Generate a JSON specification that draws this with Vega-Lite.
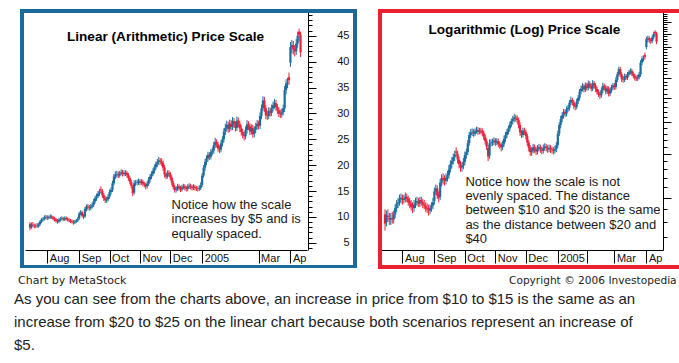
{
"$schema": "https://vega.github.io/schema/vega-lite/v6.json",
"usermeta": {"embedOptions": {"actions": false}},
"width": 679, "height": 363, "padding": 0,
"autosize": {"type": "none"},
"config": {"view": {"stroke": null}, "font": "Liberation Sans", "text": {"font": "Liberation Sans"}},
"datasets": {"px": [
{"i":0,"o":8.6,"h":9.0,"l":7.4,"c":7.9},{"i":1,"o":8.0,"h":8.9,"l":7.7,"c":8.5},{"i":2,"o":8.5,"h":9.0,"l":8.0,"c":8.4},{"i":3,"o":8.3,"h":8.7,"l":7.8,"c":8.2},{"i":4,"o":8.2,"h":8.7,"l":7.8,"c":8.3},{"i":5,"o":8.3,"h":8.8,"l":7.9,"c":8.2},{"i":6,"o":8.2,"h":8.9,"l":7.9,"c":8.6},{"i":7,"o":8.6,"h":9.4,"l":8.3,"c":9.1},{"i":8,"o":9.1,"h":9.8,"l":8.8,"c":9.5},{"i":9,"o":9.5,"h":10.0,"l":9.1,"c":9.6},
{"i":10,"o":9.6,"h":10.3,"l":9.3,"c":9.9},{"i":11,"o":9.9,"h":10.4,"l":9.5,"c":10.0},{"i":12,"o":10.0,"h":10.3,"l":9.4,"c":9.8},{"i":13,"o":9.8,"h":10.3,"l":9.5,"c":9.9},{"i":14,"o":9.9,"h":10.5,"l":9.6,"c":10.1},{"i":15,"o":10.1,"h":10.4,"l":9.6,"c":9.9},{"i":16,"o":9.9,"h":10.2,"l":9.3,"c":9.6},{"i":17,"o":9.7,"h":10.0,"l":9.1,"c":9.5},{"i":18,"o":9.5,"h":9.8,"l":8.9,"c":9.2},{"i":19,"o":9.2,"h":9.6,"l":8.7,"c":9.1},
{"i":20,"o":9.1,"h":9.8,"l":8.8,"c":9.4},{"i":21,"o":9.4,"h":10.0,"l":9.1,"c":9.6},{"i":22,"o":9.6,"h":10.1,"l":9.3,"c":9.7},{"i":23,"o":9.7,"h":10.0,"l":9.2,"c":9.5},{"i":24,"o":9.5,"h":10.1,"l":9.2,"c":9.8},{"i":25,"o":9.8,"h":10.1,"l":9.3,"c":9.6},{"i":26,"o":9.6,"h":9.9,"l":9.1,"c":9.4},{"i":27,"o":9.4,"h":9.8,"l":9.0,"c":9.3},{"i":28,"o":9.3,"h":9.6,"l":8.8,"c":9.1},{"i":29,"o":9.1,"h":9.5,"l":8.7,"c":9.0},
{"i":30,"o":9.0,"h":9.4,"l":8.5,"c":8.9},{"i":31,"o":8.9,"h":9.4,"l":8.6,"c":9.1},{"i":32,"o":9.1,"h":9.6,"l":8.8,"c":9.3},{"i":33,"o":9.3,"h":10.0,"l":9.0,"c":9.6},{"i":34,"o":9.7,"h":11.0,"l":9.4,"c":10.6},{"i":35,"o":10.6,"h":11.3,"l":10.3,"c":10.9},{"i":36,"o":10.9,"h":11.2,"l":9.9,"c":10.2},{"i":37,"o":10.3,"h":10.6,"l":9.6,"c":10.0},{"i":38,"o":10.1,"h":11.9,"l":9.8,"c":11.5},{"i":39,"o":11.5,"h":12.4,"l":11.1,"c":12.0},
{"i":40,"o":12.0,"h":12.5,"l":11.3,"c":11.8},{"i":41,"o":11.8,"h":12.3,"l":11.2,"c":11.7},{"i":42,"o":11.7,"h":12.5,"l":11.3,"c":12.0},{"i":43,"o":12.0,"h":12.8,"l":11.6,"c":12.3},{"i":44,"o":12.3,"h":13.5,"l":11.9,"c":13.0},{"i":45,"o":13.0,"h":14.1,"l":12.6,"c":13.6},{"i":46,"o":13.6,"h":14.5,"l":13.1,"c":14.0},{"i":47,"o":14.0,"h":15.0,"l":13.6,"c":14.5},{"i":48,"o":14.5,"h":15.4,"l":14.0,"c":14.9},{"i":49,"o":15.3,"h":15.9,"l":14.6,"c":15.1},
{"i":50,"o":15.0,"h":15.4,"l":13.7,"c":14.2},{"i":51,"o":14.2,"h":14.6,"l":13.1,"c":13.6},{"i":52,"o":13.6,"h":14.0,"l":12.7,"c":13.2},{"i":53,"o":13.2,"h":13.9,"l":12.7,"c":13.4},{"i":54,"o":13.4,"h":14.4,"l":13.0,"c":13.9},{"i":55,"o":13.9,"h":15.3,"l":13.5,"c":14.8},{"i":56,"o":14.8,"h":15.7,"l":14.3,"c":15.2},{"i":57,"o":15.2,"h":17.0,"l":14.8,"c":16.5},{"i":58,"o":16.5,"h":18.3,"l":16.1,"c":17.8},{"i":59,"o":17.8,"h":18.8,"l":17.3,"c":18.2},
{"i":60,"o":18.2,"h":18.9,"l":17.6,"c":18.3},{"i":61,"o":18.3,"h":18.8,"l":17.5,"c":18.0},{"i":62,"o":18.0,"h":18.9,"l":17.6,"c":18.4},{"i":63,"o":18.4,"h":19.2,"l":18.0,"c":18.6},{"i":64,"o":18.6,"h":19.1,"l":17.8,"c":18.3},{"i":65,"o":18.3,"h":19.0,"l":17.9,"c":18.5},{"i":66,"o":18.5,"h":19.0,"l":17.9,"c":18.4},{"i":67,"o":18.5,"h":18.9,"l":17.6,"c":18.1},{"i":68,"o":18.1,"h":18.5,"l":17.0,"c":17.5},{"i":69,"o":17.5,"h":17.9,"l":16.3,"c":16.8},
{"i":70,"o":16.8,"h":17.2,"l":15.5,"c":16.0},{"i":71,"o":15.8,"h":16.2,"l":14.0,"c":14.6},{"i":72,"o":14.7,"h":17.1,"l":14.3,"c":16.5},{"i":73,"o":16.5,"h":17.1,"l":16.0,"c":16.6},{"i":74,"o":16.6,"h":17.2,"l":16.1,"c":16.7},{"i":75,"o":16.7,"h":17.4,"l":16.2,"c":16.9},{"i":76,"o":16.9,"h":17.3,"l":16.1,"c":16.6},{"i":77,"o":16.6,"h":17.3,"l":16.2,"c":16.8},{"i":78,"o":16.8,"h":17.2,"l":15.9,"c":16.4},{"i":79,"o":16.4,"h":16.8,"l":15.7,"c":16.2},
{"i":80,"o":16.2,"h":16.6,"l":15.3,"c":15.9},{"i":81,"o":15.9,"h":16.9,"l":15.5,"c":16.4},{"i":82,"o":16.4,"h":17.7,"l":16.0,"c":17.2},{"i":83,"o":17.2,"h":18.3,"l":16.7,"c":17.8},{"i":84,"o":17.8,"h":18.8,"l":17.3,"c":18.3},{"i":85,"o":18.3,"h":19.4,"l":17.9,"c":18.9},{"i":86,"o":18.9,"h":20.1,"l":18.4,"c":19.6},{"i":87,"o":19.6,"h":20.7,"l":19.1,"c":20.2},{"i":88,"o":20.2,"h":21.2,"l":19.6,"c":20.6},{"i":89,"o":20.6,"h":21.6,"l":20.0,"c":20.9},
{"i":90,"o":20.9,"h":21.4,"l":20.1,"c":20.7},{"i":91,"o":20.7,"h":21.3,"l":19.8,"c":20.4},{"i":92,"o":20.4,"h":20.9,"l":18.9,"c":19.5},{"i":93,"o":19.5,"h":20.0,"l":17.6,"c":18.2},{"i":94,"o":18.2,"h":18.6,"l":17.3,"c":17.8},{"i":95,"o":17.8,"h":19.0,"l":17.4,"c":18.5},{"i":96,"o":18.5,"h":19.0,"l":17.8,"c":18.3},{"i":97,"o":18.3,"h":18.7,"l":17.1,"c":17.6},{"i":98,"o":17.6,"h":18.0,"l":16.1,"c":16.6},{"i":99,"o":16.6,"h":17.0,"l":15.3,"c":15.8},
{"i":100,"o":15.8,"h":16.2,"l":14.7,"c":15.2},{"i":101,"o":15.2,"h":15.9,"l":14.7,"c":15.4},{"i":102,"o":15.4,"h":16.4,"l":15.0,"c":15.9},{"i":103,"o":15.9,"h":16.3,"l":15.1,"c":15.6},{"i":104,"o":15.6,"h":16.0,"l":14.8,"c":15.3},{"i":105,"o":15.3,"h":16.2,"l":14.9,"c":15.7},{"i":106,"o":15.7,"h":16.4,"l":15.3,"c":15.9},{"i":107,"o":15.9,"h":16.3,"l":15.1,"c":15.6},{"i":108,"o":15.6,"h":16.0,"l":14.9,"c":15.4},{"i":109,"o":15.4,"h":16.3,"l":15.0,"c":15.8},
{"i":110,"o":15.8,"h":16.5,"l":15.4,"c":16.0},{"i":111,"o":16.0,"h":16.4,"l":15.3,"c":15.8},{"i":112,"o":15.8,"h":16.2,"l":15.1,"c":15.6},{"i":113,"o":15.6,"h":16.3,"l":15.2,"c":15.8},{"i":114,"o":15.8,"h":16.2,"l":15.1,"c":15.6},{"i":115,"o":15.6,"h":16.0,"l":15.0,"c":15.5},{"i":116,"o":15.5,"h":15.9,"l":14.9,"c":15.4},{"i":117,"o":15.4,"h":16.1,"l":15.0,"c":15.6},{"i":118,"o":15.6,"h":16.7,"l":15.2,"c":16.2},{"i":119,"o":16.2,"h":18.5,"l":15.8,"c":18.0},
{"i":120,"o":18.0,"h":20.0,"l":17.6,"c":19.5},{"i":121,"o":19.5,"h":21.2,"l":18.9,"c":20.6},{"i":122,"o":20.6,"h":21.9,"l":20.0,"c":21.3},{"i":123,"o":21.3,"h":22.6,"l":20.7,"c":22.0},{"i":124,"o":22.0,"h":22.5,"l":21.0,"c":21.6},{"i":125,"o":21.6,"h":23.1,"l":21.1,"c":22.5},{"i":126,"o":22.5,"h":23.4,"l":21.9,"c":22.8},{"i":127,"o":22.8,"h":24.5,"l":22.2,"c":23.9},{"i":128,"o":23.9,"h":25.3,"l":23.3,"c":24.5},{"i":129,"o":24.5,"h":25.0,"l":23.4,"c":24.0},
{"i":130,"o":24.0,"h":24.5,"l":22.6,"c":23.2},{"i":131,"o":23.2,"h":23.8,"l":22.3,"c":23.0},{"i":132,"o":23.0,"h":24.8,"l":22.5,"c":24.2},{"i":133,"o":24.2,"h":25.6,"l":23.6,"c":25.0},{"i":134,"o":25.0,"h":27.1,"l":24.4,"c":26.5},{"i":135,"o":26.5,"h":28.0,"l":25.8,"c":27.2},{"i":136,"o":27.2,"h":28.6,"l":26.5,"c":27.8},{"i":137,"o":27.8,"h":28.4,"l":26.3,"c":27.0},{"i":138,"o":27.0,"h":28.8,"l":26.4,"c":28.0},{"i":139,"o":28.0,"h":28.7,"l":26.7,"c":27.4},
{"i":140,"o":27.4,"h":29.3,"l":26.8,"c":28.5},{"i":141,"o":28.5,"h":29.1,"l":27.2,"c":27.9},{"i":142,"o":27.9,"h":28.5,"l":26.5,"c":27.2},{"i":143,"o":27.2,"h":29.4,"l":26.6,"c":28.6},{"i":144,"o":28.6,"h":29.2,"l":27.3,"c":28.0},{"i":145,"o":28.0,"h":28.6,"l":26.4,"c":27.1},{"i":146,"o":27.1,"h":27.7,"l":25.7,"c":26.4},{"i":147,"o":26.4,"h":27.0,"l":25.2,"c":25.9},{"i":148,"o":25.9,"h":26.5,"l":24.8,"c":25.6},{"i":149,"o":25.6,"h":27.5,"l":25.0,"c":26.8},
{"i":150,"o":26.8,"h":28.7,"l":26.1,"c":27.9},{"i":151,"o":27.9,"h":28.5,"l":26.8,"c":27.5},{"i":152,"o":27.5,"h":28.1,"l":25.8,"c":26.5},{"i":153,"o":26.5,"h":27.9,"l":25.9,"c":27.2},{"i":154,"o":27.2,"h":27.8,"l":25.3,"c":26.0},{"i":155,"o":26.0,"h":27.5,"l":25.4,"c":26.8},{"i":156,"o":26.8,"h":28.2,"l":26.2,"c":27.5},{"i":157,"o":27.5,"h":28.7,"l":26.9,"c":28.0},{"i":158,"o":28.0,"h":28.6,"l":26.9,"c":27.6},{"i":159,"o":27.6,"h":30.2,"l":27.0,"c":29.5},
{"i":160,"o":29.5,"h":31.7,"l":28.9,"c":31.0},{"i":161,"o":31.0,"h":33.3,"l":30.4,"c":32.5},{"i":162,"o":32.5,"h":33.2,"l":30.3,"c":31.0},{"i":163,"o":31.0,"h":31.6,"l":28.9,"c":29.6},{"i":164,"o":29.6,"h":30.5,"l":28.7,"c":29.5},{"i":165,"o":29.5,"h":31.2,"l":28.9,"c":30.5},{"i":166,"o":30.5,"h":31.1,"l":29.4,"c":30.1},{"i":167,"o":30.1,"h":31.7,"l":29.5,"c":31.0},{"i":168,"o":31.0,"h":32.3,"l":30.4,"c":31.6},{"i":169,"o":31.6,"h":32.8,"l":30.9,"c":32.0},
{"i":170,"o":32.0,"h":32.6,"l":30.5,"c":31.2},{"i":171,"o":31.2,"h":31.8,"l":29.9,"c":30.6},{"i":172,"o":30.6,"h":31.2,"l":29.3,"c":30.0},{"i":173,"o":30.0,"h":30.7,"l":29.1,"c":29.8},{"i":174,"o":29.8,"h":30.9,"l":29.2,"c":30.2},{"i":175,"o":30.2,"h":31.7,"l":29.6,"c":31.0},{"i":176,"o":31.0,"h":35.3,"l":30.3,"c":34.5},{"i":177,"o":34.5,"h":36.6,"l":33.7,"c":35.8},{"i":178,"o":35.8,"h":36.9,"l":34.9,"c":36.0},{"i":179,"o":37.0,"h":37.9,"l":35.5,"c":36.4},
{"i":180,"o":39.8,"h":43.8,"l":39.0,"c":42.8},{"i":181,"o":42.8,"h":44.2,"l":41.6,"c":43.2},{"i":182,"o":43.2,"h":44.0,"l":41.4,"c":42.4},{"i":183,"o":42.4,"h":43.2,"l":41.0,"c":42.0},{"i":184,"o":42.0,"h":44.4,"l":41.3,"c":43.5},{"i":185,"o":43.5,"h":45.8,"l":42.7,"c":45.0},{"i":186,"o":45.8,"h":46.4,"l":44.0,"c":45.2},{"i":187,"o":45.2,"h":45.8,"l":40.9,"c":41.8}
]},
"layer": [
{
 "data": {"name": "px"},
 "layer": [
  {"mark": {"type": "rect", "filled": false, "stroke": "#1b6a9b", "strokeWidth": 3},
   "encoding": {"x": {"datum": -5.67, "type": "quantitative"}, "x2": {"datum": 224.5}, "y": {"datum": 0.41, "type": "quantitative", "axis": null}, "y2": {"datum": 49.74}}},
  {"mark": {"type": "rule", "strokeWidth": 1},
   "encoding": {
    "x": {"field": "i", "type": "quantitative",
      "scale": {"domain": [0, 188], "range": [25, 307], "nice": false, "zero": false},
      "axis": {"orient": "bottom", "offset": -113, "title": null, "grid": false,
        "values": [12, 34, 55, 76, 97, 119, 158, 180],
        "labelExpr": "['Aug','Sep','Oct','Nov','Dec','2005','Mar','Ap'][indexof([12,34,55,76,97,119,158,180], datum.value)]",
        "tickSize": 13, "labelPadding": -11, "labelAlign": "left", "labelOffset": 2, "labelBaseline": "top",
        "labelFlush": false, "labelOverlap": false, "labelBound": false,
        "domainColor": "#000", "tickColor": "#000", "labelColor": "#111", "labelFontSize": 11, "labelFont": "Liberation Sans"}},
    "y": {"field": "l", "type": "quantitative",
      "scale": {"domain": [3.6, 49.6], "range": [250, 12], "nice": false, "zero": false},
      "axis": {"orient": "right", "offset": -371, "title": null, "grid": false,
        "values": [5, 10, 15, 20, 25, 30, 35, 40, 45], "tickSize": 8,
        "labelAlign": "right", "labelPadding": 33, "labelBaseline": "middle",
        "labelFlush": false, "labelOverlap": false, "labelBound": false,
        "domainColor": "#000", "tickColor": "#000", "labelColor": "#111", "labelFontSize": 11, "labelFont": "Liberation Sans"}},
    "y2": {"field": "h"},
    "color": {"condition": {"test": "datum.c < datum.o", "value": "#e8213a"}, "value": "#1a6d9e"}}},
  {"mark": {"type": "bar", "width": 2.2},
   "encoding": {
    "x": {"field": "i", "type": "quantitative"},
    "y": {"field": "o", "type": "quantitative",
      "axis": {"orient": "right", "offset": -371, "title": null, "grid": false, "labels": false, "domain": false,
        "values": [4,6,7,8,9,11,12,13,14,16,17,18,19,21,22,23,24,26,27,28,29,31,32,33,34,36,37,38,39,41,42,43,44,46,47,48,49],
        "tickSize": 4, "tickColor": "#000"}},
    "y2": {"field": "c"},
    "color": {"condition": {"test": "datum.c < datum.o", "value": "#e8213a"}, "value": "#1a6d9e"}}},
  {"data": {"values": [{"t": "Linear (Arithmetic) Price Scale"}]},
   "mark": {"type": "text", "align": "center", "baseline": "alphabetic", "fontSize": 13.6, "fontWeight": "bold", "color": "#000"},
   "encoding": {"x": {"datum": 93.7, "type": "quantitative"}, "y": {"datum": 44.0, "type": "quantitative", "axis": null}, "text": {"field": "t"}}},
  {"data": {"values": [{"t": "Notice how the scale\nincreases by $5 and is\nequally spaced."}]},
   "mark": {"type": "text", "align": "left", "baseline": "alphabetic", "fontSize": 13, "lineBreak": "\n", "lineHeight": 14.6, "color": "#1a1a1a"},
   "encoding": {"x": {"datum": 97.8, "type": "quantitative"}, "y": {"datum": 11.62, "type": "quantitative", "axis": null}, "text": {"field": "t"}}}
 ],
 "resolve": {"axis": {"y": "independent"}}
},
{
 "data": {"name": "px"},
 "layer": [
  {"mark": {"type": "rect", "filled": false, "stroke": "#ea2130", "strokeWidth": 3},
   "encoding": {"x": {"datum": -3.6, "type": "quantitative"}, "x2": {"datum": 206}, "y": {"datum": 5.305, "type": "quantitative", "axis": null}, "y2": {"datum": 55.25}}},
  {"mark": {"type": "rule", "strokeWidth": 1},
   "encoding": {
    "x": {"field": "i", "type": "quantitative",
      "scale": {"domain": [0, 188], "range": [380, 663], "nice": false, "zero": false},
      "axis": {"orient": "bottom", "offset": -113, "title": null, "grid": false,
        "values": [12, 34, 55, 76, 97, 119, 139, 158, 180],
        "labelExpr": "['Aug','Sep','Oct','Nov','Dec','2005','','Mar','Ap'][indexof([12,34,55,76,97,119,139,158,180], datum.value)]",
        "tickSize": 13, "labelPadding": -11, "labelAlign": "left", "labelOffset": 2, "labelBaseline": "top",
        "labelFlush": false, "labelOverlap": false, "labelBound": false,
        "domainColor": "#000", "tickColor": "#000", "labelColor": "#111", "labelFontSize": 11, "labelFont": "Liberation Sans"}},
    "y": {"field": "l", "type": "quantitative",
      "scale": {"type": "log", "domain": [6.2, 54.9], "range": [250, 12], "nice": false},
      "axis": {"orient": "right", "offset": -16, "title": null, "grid": false, "labels": false,
        "values": [10, 15, 20, 25, 30, 35, 40, 45, 50], "tickSize": 8,
        "domainColor": "#000", "tickColor": "#000"}},
    "y2": {"field": "h"},
    "color": {"condition": {"test": "datum.c < datum.o", "value": "#e8213a"}, "value": "#1a6d9e"}}},
  {"mark": {"type": "bar", "width": 2.2},
   "encoding": {
    "x": {"field": "i", "type": "quantitative"},
    "y": {"field": "o", "type": "quantitative",
      "axis": {"orient": "right", "offset": -16, "title": null, "grid": false, "labels": false, "domain": false,
        "values": [7,8,9,11,12,13,14,16,17,18,19,21,22,23,24,26,27,28,29,31,32,33,34,36,37,38,39,41,42,43,44,46,47,48,49,51,52,53,54],
        "tickSize": 4, "tickColor": "#000"}},
    "y2": {"field": "c"},
    "color": {"condition": {"test": "datum.c < datum.o", "value": "#e8213a"}, "value": "#1a6d9e"}}},
  {"data": {"values": [{"t": "Logarithmic (Log) Price Scale"}]},
   "mark": {"type": "text", "align": "center", "baseline": "alphabetic", "fontSize": 13.6, "fontWeight": "bold", "color": "#000"},
   "encoding": {"x": {"datum": 96, "type": "quantitative"}, "y": {"datum": 44.9, "type": "quantitative", "axis": null}, "text": {"field": "t"}}},
  {"data": {"values": [{"t": "Notice how the scale is not\nevenly spaced. The distance\nbetween $10 and $20 is the same\nas the distance between $20 and\n$40"}]},
   "mark": {"type": "text", "align": "left", "baseline": "alphabetic", "fontSize": 13, "lineBreak": "\n", "lineHeight": 14.2, "color": "#1a1a1a"},
   "encoding": {"x": {"datum": 55.35, "type": "quantitative"}, "y": {"datum": 11.14, "type": "quantitative", "axis": null}, "text": {"field": "t"}}}
 ],
 "resolve": {"axis": {"y": "independent"}}
},
{
 "layer": [
  {"data": {"values": [{"line": 0, "t": "Chart by MetaStock"}]},
   "mark": {"type": "text", "align": "left", "baseline": "alphabetic", "font": "DejaVu Sans", "fontSize": 11, "dx": 4, "dy": 3, "color": "#222"},
   "encoding": {"x": {"datum": 0, "type": "quantitative", "scale": {"domain": [0, 1], "range": [14, 509]}, "axis": null},
     "y": {"field": "line", "type": "quantitative", "scale": {"domain": [0, 3], "range": [281, 350]}, "axis": null},
     "text": {"field": "t"}}},
  {"data": {"values": [{"line": 0, "t": "Copyright © 2006 Investopedia"}]},
   "mark": {"type": "text", "align": "left", "baseline": "alphabetic", "font": "DejaVu Sans", "fontSize": 10.6, "dy": 3, "color": "#222"},
   "encoding": {"x": {"datum": 1, "type": "quantitative", "axis": null}, "y": {"field": "line", "type": "quantitative", "axis": null}, "text": {"field": "t"}}},
  {"data": {"values": [
     {"line": 1, "t": "As you can see from the charts above, an increase in price from $10 to $15 is the same as an"},
     {"line": 2, "t": "increase from $20 to $25 on the linear chart because both scenarios represent an increase of"},
     {"line": 3, "t": "$5."}]},
   "mark": {"type": "text", "align": "left", "baseline": "alphabetic", "fontSize": 15, "color": "#222"},
   "encoding": {"x": {"datum": 0, "type": "quantitative", "axis": null}, "y": {"field": "line", "type": "quantitative", "axis": null}, "text": {"field": "t"}}}
 ]
}
],
"resolve": {"scale": {"x": "independent", "y": "independent"}, "axis": {"x": "independent", "y": "independent"}}
}
